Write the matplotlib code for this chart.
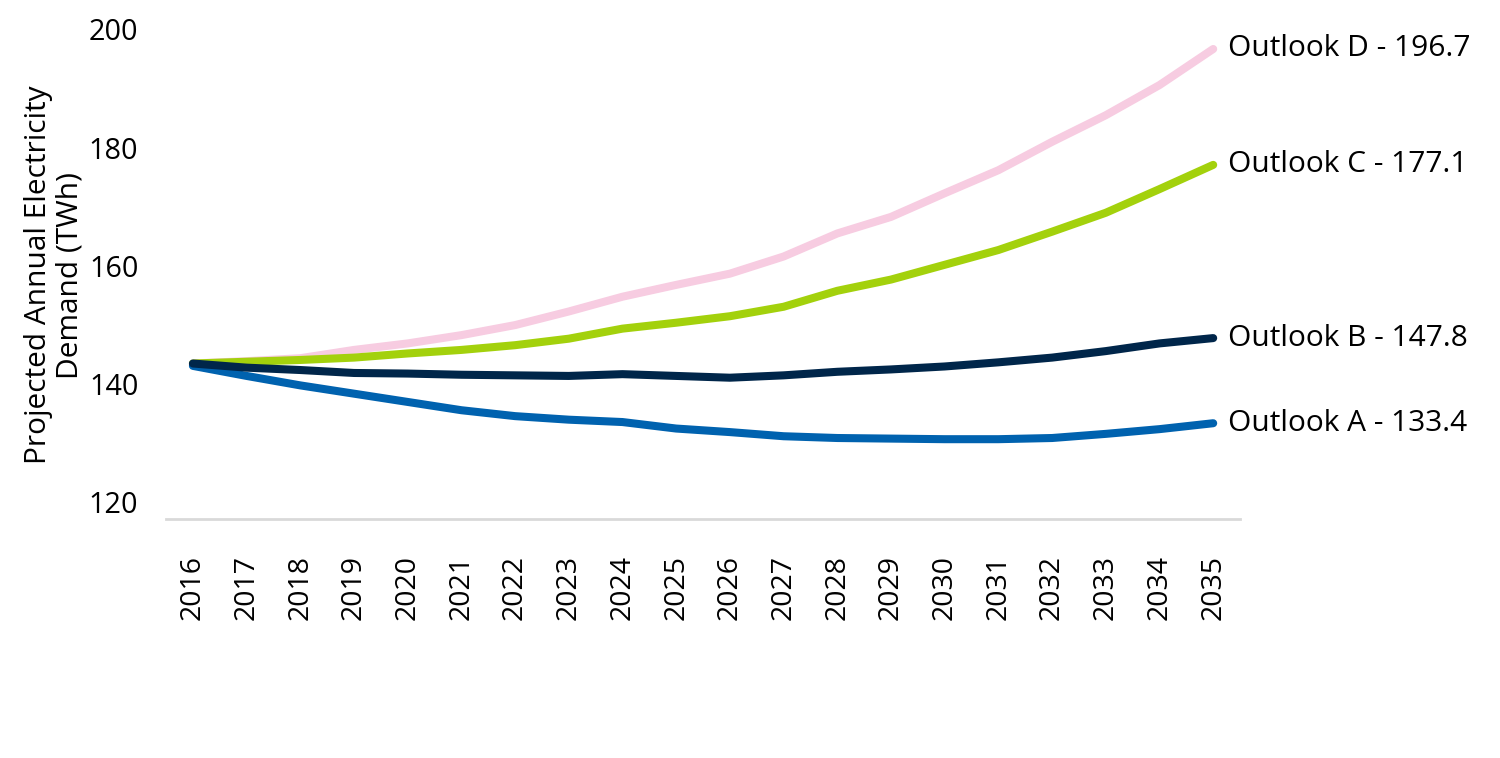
import matplotlib
matplotlib.use("Agg")
import matplotlib.pyplot as plt

years = list(range(2016, 2036))

outlook_a = [143.1, 141.4, 139.8, 138.4, 137.0, 135.6, 134.6, 134.0, 133.6, 132.5,
             131.9, 131.2, 130.9, 130.8, 130.7, 130.7, 130.9, 131.6, 132.4, 133.4]
outlook_b = [143.5, 142.8, 142.4, 141.9, 141.8, 141.6, 141.5, 141.4, 141.7, 141.4,
             141.1, 141.5, 142.1, 142.5, 143.0, 143.7, 144.5, 145.6, 146.9, 147.8]
outlook_c = [143.5, 143.8, 144.1, 144.5, 145.2, 145.8, 146.6, 147.7, 149.4, 150.4,
             151.5, 153.1, 155.8, 157.7, 160.2, 162.7, 165.8, 169.0, 173.0, 177.1]
outlook_d = [143.5, 143.9, 144.4, 145.8, 146.9, 148.3, 150.0, 152.3, 154.8, 156.8,
             158.7, 161.6, 165.5, 168.3, 172.3, 176.2, 181.0, 185.5, 190.6, 196.7]

series_names = ["Outlook D", "Outlook C", "Outlook A", "Outlook B"]
series_values = [outlook_d, outlook_c, outlook_a, outlook_b]
colors = ["#F7CCE1", "#A3D10C", "#0062AF", "#00264A"]

plt.rcParams["font.family"] = ["Open Sans", "DejaVu Sans"]

fig = plt.figure(figsize=(15, 7.58), dpi=100)
ax = fig.add_axes([0.1107, 0.3153, 0.716, 0.6458])

x = list(range(len(years)))
for i, (name, vals, col) in enumerate(zip(series_names, series_values, colors)):
    ax.plot(x, vals, color=col, lw=5.8, solid_capstyle="round", zorder=2 + i)
    ax.annotate(f"{name} - {vals[-1]}", xy=(x[-1], vals[-1]), xytext=(11, 0),
                textcoords="offset points", ha="left", va="center",
                fontsize=21.5, color="#000000", annotation_clip=False)

ax.set_xlim(-0.5, len(years) - 0.5)
ax.set_ylim(117.2, 200)
ax.set_yticks([120, 140, 160, 180, 200])
ax.set_xticks(x)
ax.set_xticklabels([str(y) for y in years], rotation=90)

for side in ["top", "right", "left"]:
    ax.spines[side].set_visible(False)
ax.spines["bottom"].set_color("#D9D9D9")
ax.spines["bottom"].set_linewidth(2)

ax.tick_params(axis="y", length=0, pad=20, labelsize=20.7)
ax.tick_params(axis="x", length=0, pad=26, labelsize=20.5)

fig.text(54 / 1500, 1 - 275 / 758, "Projected Annual Electricity\nDemand (TWh)",
         rotation=90, ha="center", va="center", multialignment="center",
         fontsize=21.5, linespacing=1.1)

fig.savefig("out.png", dpi=100)
